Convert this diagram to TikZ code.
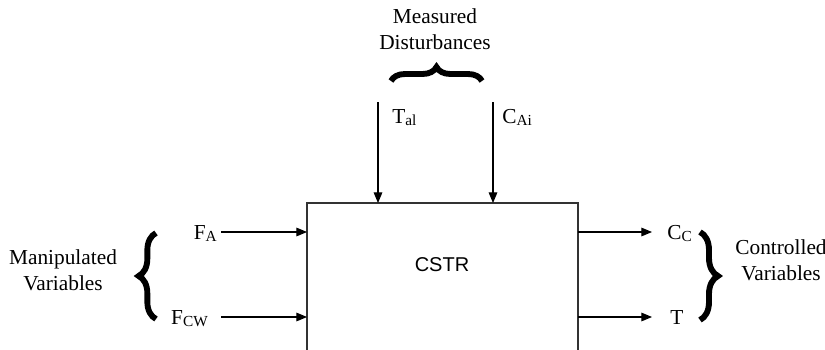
\documentclass[tikz,border=0pt]{standalone}
\usepackage{fontspec}
\setmainfont{Liberation Serif}
\newfontfamily\arialfont{Liberation Sans}
\usetikzlibrary{arrows.meta,decorations.pathreplacing}
\newcommand\lowsub[1]{\raisebox{-0.3ex}{\fontsize{11.5}{12}\selectfont #1}}

\begin{document}
\begin{tikzpicture}[x=0.75pt, y=-0.75pt,
    font=\fontsize{16}{19.5}\selectfont,
    flow/.style={-{Triangle[length=8pt,width=6.5pt]}, line width=0.8pt},
    curly/.style={decorate, line width=4.4pt,
      decoration={brace, amplitude=#1}},
    var/.style={inner sep=0pt},
    caption/.style={inner sep=0pt, align=center}]
  \useasboundingbox (0,0) rectangle (825,350);
  \def\L{307}
  \def\R{578}
  \def\T{203}
  \def\B{350}
  \def\ya{232}
  \def\yb{317}
  % reactor walls, open at the bottom
  \draw[line width=1pt, black!80] (\L,\B) -- (\L,\T) -- (\R,\T) -- (\R,\B);
  \node[font=\arialfont\fontsize{15}{18}\selectfont] (cstr) at (442,265) {CSTR};

  % measured disturbances
  \coordinate (tal top) at (378,102);
  \coordinate (tal in) at (378,\T);
  \coordinate (cai top) at (493,102);
  \coordinate (cai in) at (493,\T);
  \draw[flow] (tal top) -- (tal in);
  \draw[flow] (cai top) -- (cai in);
  \node[var, anchor=base west] (tal) at (392,123) {T\lowsub{al}};
  \node[var, anchor=base west] (cai) at (502,123) {C\lowsub{Ai}};
  \coordinate (md left) at (391,81);
  \coordinate (md right) at (482,81);
  \draw[curly=10.5pt] (md left) -- (md right);
  \node[caption] (meas) at (435,29) {Measured\\Disturbances};

  % manipulated variables
  \coordinate (fa start) at (221,\ya);
  \coordinate (fa in) at (\L,\ya);
  \coordinate (fcw start) at (221,\yb);
  \coordinate (fcw in) at (\L,\yb);
  \draw[flow] (fa start) -- (fa in);
  \draw[flow] (fcw start) -- (fcw in);
  \node[var, anchor=base east] (fa) at (217,239) {F\lowsub{A}};
  \node[var, anchor=base east] (fcw) at (208,324) {F\lowsub{CW}};
  \coordinate (mv low) at (156,319);
  \coordinate (mv high) at (156,233);
  \draw[curly=13pt] (mv low) -- (mv high);
  \node[caption] (manip) at (63,270) {Manipulated\\Variables};

  % controlled variables
  \coordinate (cc out) at (\R,\ya);
  \coordinate (cc end) at (652,\ya);
  \coordinate (t out) at (\R,\yb);
  \coordinate (t end) at (652,\yb);
  \draw[flow] (cc out) -- (cc end);
  \draw[flow] (t out) -- (t end);
  \node[var, anchor=base west] (cc) at (667,239) {C\lowsub{C}};
  \node[var, anchor=base west] (temp) at (670,324) {T};
  \coordinate (cv high) at (700,232);
  \coordinate (cv low) at (700,320);
  \draw[curly=13.5pt] (cv high) -- (cv low);
  \node[caption] (ctrl) at (781,260) {Controlled\\Variables};
\end{tikzpicture}
\end{document}
